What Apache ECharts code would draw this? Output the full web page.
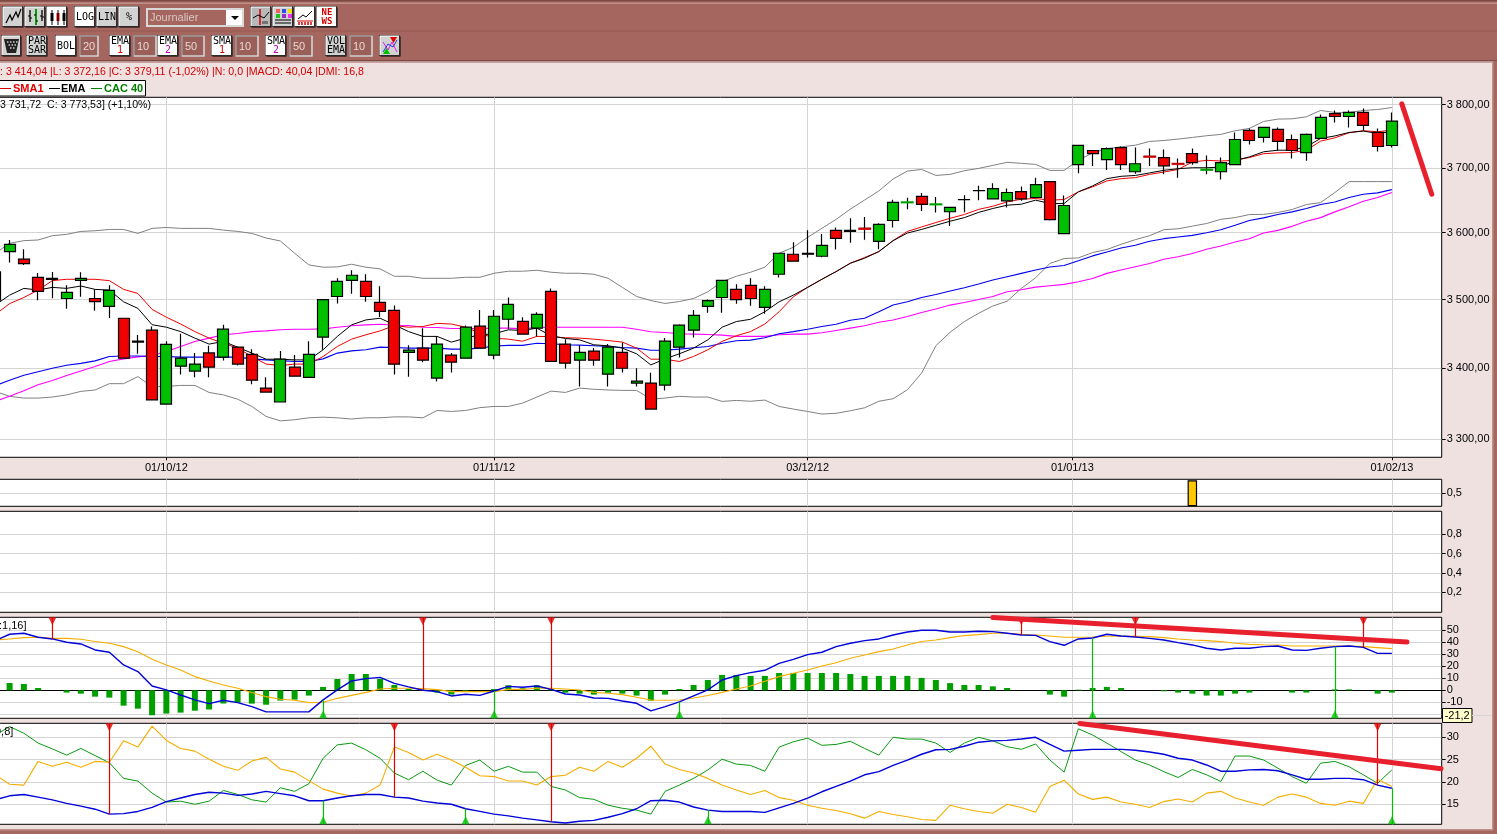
<!DOCTYPE html>
<html><head><meta charset="utf-8"><style>html,body{margin:0;padding:0;background:#F0E1E1;overflow:hidden}#c{width:1497px;height:834px}</style>
<script src="https://cdn.jsdelivr.net/npm/echarts@6/dist/echarts.min.js"></script></head><body><div id="c"></div>
<script>
// Values below start at trading-day index -1 (one candle cut by the left edge).
const opens=[3541,
3571.5,3560,3533,3531.5,3501.5,3528.5,3501.5,3490,3472.5,3439,
3455,3349,3403,3396,3422,3416,3430.4,3420,3371.7,3352,
3401.5,3387,3445,3504.5,3528.5,3527,3495.7,3484,3423,3429,
3386,3418.8,3414.5,3461,3418.8,3471,3468,3458,3512,3434.8,
3411.6,3424.7,3391.5,3423,3378.8,3378.8,3376,3430.4,3455,3490,
3503,3515,3521,3488.4,3537.5,3567.5,3569,3564.5,3603.6,3603.6,
3606.6,3587,3618.6,3646.2,3655.7,3643.1,3632,3650.8,3664.6,3651.8,
3648.7,3663,3653.9,3678.5,3598.5,3704.8,3727,3712.7,3731.7,3693.8,
3717.7,3716,3706.5,3722,3696.7,3693.8,3704.8,3758.7,3747.6,3760.3,
3744.4,3723.8,3746,3785.6,3780.9,3787.3,3755.5,3734.9];
const closes=[3499,
3582.5,3553.5,3512,3530,3510.5,3531.5,3497,3513.5,3414.5,3437.7,
3355,3434.3,3414.5,3406,3401.5,3456.5,3406,3383,3366,3413,
3388.7,3420,3500,3527,3536,3504.5,3482.6,3405.8,3426,3411.6,
3434.8,3408.7,3459.4,3429,3475.4,3492.8,3449.3,3478.3,3410,3407.3,
3423,3411.6,3430.4,3400,3381.6,3342,3439,3462.3,3476.8,3498.5,
3528.5,3500,3501.5,3515,3569,3557,3567.5,3581,3591.5,3602,
3606,3612.8,3646.4,3646.4,3643.3,3643.3,3638.7,3650.5,3664.4,3667.7,
3661.6,3651.8,3673.9,3620,3641.6,3735,3722,3730,3704.8,3706.3,
3717.2,3703,3706,3708,3697,3708,3744.4,3742.8,3763.5,3741.3,
3727,3752.4,3779.4,3780.9,3787.3,3766.7,3733.3,3773.53];
const lows=[3497,
3555,3551.5,3499,3502,3486.5,3504,3483.6,3473,3414.5,3421,
3355,3349,3391,3387,3387,3411,3404,3377,3366,3352,
3388.7,3387,3426.6,3494,3508.5,3496.6,3474.4,3391,3388,3408.7,
3381,3394,3414.5,3429,3413,3456.5,3449.3,3446,3410,3399.5,
3374,3403.7,3374,3394,3374,3342,3368.4,3415.5,3444.5,3480.7,
3480.7,3493.7,3491,3479,3532.5,3557,3562.5,3563,3574.5,3585,
3589.5,3575,3608,3636,3633,3631,3610.3,3631.4,3649.5,3651.8,
3638.5,3648.7,3653.9,3618.5,3598.5,3691.3,3702.6,3696.4,3696.4,3690.8,
3702.6,3690,3684.6,3704.8,3689.8,3681.9,3704.8,3736.5,3739.7,3727,
3714.3,3711,3746,3771.4,3763.5,3758.7,3725.4,3731.72];
const highs=[3546,
3589,3575,3539.5,3541,3521,3540.5,3515,3521,3472.5,3448,
3460.4,3439,3450,3422,3432.4,3463,3430.4,3427.5,3387,3425,
3419,3439,3500,3531.5,3543.5,3537.5,3519.5,3491.3,3433.3,3458,
3446.4,3422,3462,3484.5,3484.5,3503,3474,3481.2,3516.5,3442,
3433.3,3429,3434.8,3437,3400,3393.4,3443.5,3463.8,3484.5,3500,
3528.5,3522.5,3531.5,3519.5,3569,3585.5,3603.6,3598,3608,3622,
3624,3614.3,3650.5,3653.6,3660.8,3654.6,3638.7,3657.2,3672,3675.9,
3667.7,3670.8,3684.6,3678.5,3657,3735,3727,3731.7,3733.3,3731.7,
3730,3728.6,3714.3,3730,3719,3715.9,3755.5,3761.9,3763.5,3763.5,
3752.4,3754,3784,3790.5,3790.5,3793.6,3761.9,3787.3];
const bollUpper=[3569,
3584,3588,3589,3595.5,3597.5,3602,3603,3605,3605,3599,
3606.6,3608,3606.6,3606.6,3606.6,3604,3602,3599,3592,3587.5,
3569,3551.5,3548,3548.5,3552.5,3548,3545.5,3534.5,3534.5,3531.5,
3531.5,3531.5,3533,3533,3539,3542,3542,3543.5,3540.5,3539,
3539,3537.5,3531.5,3518,3504.5,3498.5,3494.2,3497,3501.5,3511.5,
3526.5,3534.5,3540.5,3548,3569,3578,3593,3606.6,3620.4,3636,
3650,3664,3682.5,3694.8,3697.4,3688,3689.7,3695.4,3699,3703.7,
3708.5,3706.9,3705.3,3695.9,3695.9,3711.6,3723.3,3730,3732.8,3735.4,
3741.3,3742.8,3745,3747.6,3750.3,3752.4,3758.2,3761.9,3773,3776.7,
3777.2,3780.4,3790.5,3787.3,3787.3,3790.5,3792,3795.2];
const bollLower=[3367,
3360,3357.5,3357.5,3359,3362,3367,3369,3378,3378,3388,
3374,3374,3375.5,3375.5,3365.5,3362,3356,3345.7,3331.6,3325.4,
3327,3329.7,3330.6,3329.7,3328,3329.7,3329.7,3331,3331,3329.7,
3340,3338.6,3340,3344,3345.7,3345.7,3350.4,3359,3367.4,3365.5,
3371.7,3370,3369,3368.4,3368.4,3356,3357.5,3360,3359,3359,
3352.8,3354.2,3353,3354.7,3345.7,3342,3338.6,3335,3336,3339.6,
3343.8,3353,3356.6,3369.3,3393,3432.4,3452,3467.6,3479.7,3490.5,
3497.5,3516.4,3532.3,3553.7,3561,3562,3570,3574.6,3582.5,3589.5,
3595.5,3604.6,3606,3610,3614,3620.5,3623,3627.7,3628,3630.8,
3635.4,3643,3646,3661.6,3678.5,3678.5,3678.5,3678.5];
const ema50=[3375,
3383,3390,3395,3400,3404.4,3407,3410.6,3417,3417.6,3417.6,
3417,3417,3416,3416,3416,3416,3416,3413.5,3412,3411,
3409.7,3409.7,3413.5,3421.8,3425,3426.6,3430.4,3430,3429,3429,
3429,3427.5,3427.5,3429,3432,3433,3433,3436,3435.3,3433.8,
3433.3,3432.4,3431.4,3430,3429,3426,3426,3427.5,3429.5,3431.4,
3436,3439.6,3440.6,3444,3449.8,3453,3456.5,3460.4,3463.8,3469.6,
3472.5,3482,3492,3496.6,3503,3507.5,3512.5,3517.5,3523,3528.9,
3533.8,3538.8,3543.8,3548.3,3550.7,3557.7,3565,3571,3577,3581,
3587,3591,3593.5,3596,3600,3604.6,3611.3,3618.5,3622.6,3627.7,
3631.8,3637,3643,3647,3653.9,3659,3661,3666];
const sma50=[3353,
3360,3368,3376.4,3382.5,3389.6,3396,3402.4,3409.7,3413.5,3416.4,
3418.4,3424,3431.4,3438.7,3443.5,3448.3,3450.3,3453,3454,3455.6,
3456.5,3456.5,3457,3459.4,3461.4,3462.8,3463.8,3462.3,3461.8,3459.4,
3459,3457.5,3457.5,3457.5,3458,3458,3457,3459,3459.4,3459.4,
3459.4,3459.4,3459.4,3459.4,3456.5,3452.7,3451.7,3449.8,3449.3,3448.8,
3447.8,3446,3446,3446,3448.3,3449.3,3449.3,3451.2,3454.6,3458,
3461.4,3466.7,3470,3475,3481,3486,3491.8,3495.7,3500,3504.5,
3511.4,3514.4,3518.4,3520.4,3522.4,3526.4,3531.3,3538.8,3543.8,3548.8,
3553.7,3560,3563.7,3568.7,3575,3580,3586,3591,3599.5,3603.6,
3609.7,3617.4,3623,3631.8,3639.5,3648.2,3653.9,3661.6];
const ema10=[3492,
3506.5,3516.5,3514,3518,3516.5,3520,3515,3514,3496.6,3487,
3463,3459.4,3453,3443.5,3434.8,3438.7,3430.4,3421.8,3413,3413,
3412,3412,3426.6,3446,3462.8,3470,3472.5,3462.8,3453,3446,
3446,3437.7,3443.5,3448.3,3449.8,3455.6,3454.6,3458,3446.9,3443,
3441,3433.8,3432.4,3429,3420.8,3404.8,3413.5,3420.8,3429,3441,
3459.4,3467.6,3471,3482,3496.6,3506.5,3518,3530,3541.5,3554,
3561.5,3571.5,3588,3599.5,3605,3611.3,3617.5,3623,3631,3637,
3642,3643.6,3649.8,3644.6,3644.6,3662.6,3671.8,3683,3686.7,3688,
3692,3696,3698.5,3700,3700,3701,3711.6,3717,3725,3727.5,
3727.5,3733,3746,3750,3755.5,3757.7,3754,3756.6];
const sma10=[3478,
3494,3503,3514,3528,3530,3530,3530,3528,3515,3509,
3485.5,3474,3464,3453,3443.5,3436,3429,3417,3406,3404,
3406,3406,3417,3431.4,3442,3448.3,3454,3461.8,3459.4,3460.4,
3465,3464,3459.4,3450.7,3443.5,3442,3439,3446,3445.6,3444,
3443.5,3442,3440,3437.7,3429,3413,3413,3409.7,3417,3426.6,
3438.7,3447,3453,3464,3482,3504,3518,3530,3541.5,3554,
3562.5,3571.5,3588,3602,3608.8,3615.5,3622,3627.8,3635.6,3640.5,
3647.2,3651.3,3652.3,3649.8,3650.8,3662.6,3670.3,3679.5,3683,3684.6,
3689.7,3693.3,3697.4,3709,3711.6,3710.6,3711.6,3716,3722,3723.3,
3723.8,3727.5,3741.8,3747,3755,3758.2,3756.6,3759.2];
const macdHist=[6,
6.1,5.3,1.9,0,-1.9,-2.8,-5.3,-6.1,-12.8,-15.3,
-20.8,-19.4,-18.6,-17,-16,-11,-10.3,-11.1,-12,-8.6,
-7.8,-4.4,2.8,9.4,13.6,13.6,9.4,4.4,1.1,0.4,
-2,-3.6,-1.1,0,1,4.2,1.7,4.2,1,-2,
-2.8,-3.6,-2,-2.8,-4.4,-8.6,-3.6,1.1,4.4,8.6,
12.8,12.8,12,12,14.4,14.4,14.4,14.4,14.4,13.6,
12,12,12,12,10.3,8.6,6,4.4,4.4,3.3,
1.9,0,0,-3.6,-5.3,0.5,1.9,2.8,1.9,0,
0,-0.8,-1.9,-2.8,-4.4,-4.4,-2.8,-1.9,0,0,
-1.9,-1.9,0,0.8,0.8,0,-2.8,-1.9];
const macdLine=[41.4,
46.7,47.5,44.2,42.8,40,38.6,33.6,31.7,21.1,15.6,
3.6,0.3,-3.9,-8,-11.1,-8.3,-10.3,-13.6,-18,-18,
-18,-18,-8,0.3,7.8,9.7,10.8,5.8,2.8,0,
-1.1,-4.7,-3.3,-4.2,-0.6,3.3,2.5,3.6,0.8,-3.1,
-3.9,-6.4,-6.7,-8.9,-10.8,-17.2,-13.6,-9.7,-4.7,0.3,
8.6,12.2,14.7,16.7,22.5,25.8,29.7,31.7,36.4,39.2,
41.4,42.8,46.1,48.6,50,50,48.6,48.6,49.2,48.9,
47.5,46.1,45.8,40.6,37.5,42.8,43.6,46.7,45.3,44.4,
43.3,41.9,39.7,37.8,35,33.6,35,35,36.4,36.9,
33.6,33.3,35,36.4,36.9,35.8,30.8,30.8];
const macdSignal=[41.9,
42.8,43.9,44.2,43.3,43.3,42.5,40.6,39.2,36.4,32.2,
25.8,21.1,16.9,11.4,7.8,4.4,1.7,-1.9,-5.3,-7.5,
-8.3,-10.3,-10,-6.7,-4.2,-1.7,1.1,1.7,1.7,1.4,
0.6,-1.1,-1.1,-1.1,-1.1,0.8,0.8,1.7,1.7,1.1,
0.3,-1.7,-2.5,-3.6,-5.8,-8.1,-8.3,-8.1,-6.4,-4.4,
-1.7,1.1,3.6,7.5,11.4,14.2,16.9,20.3,23,26.7,
29.4,32.2,34.4,37.8,40.6,41.9,43.9,45.6,46.4,47.5,
47.5,46.7,46.1,45.3,44.2,44.2,44.4,45,45.3,45,
44.7,43.9,42.8,41.9,41.4,40.6,39.2,38.3,38,37.8,
36.9,36.9,36.9,36.9,36.9,36.4,35.6,34.7];
const dmiPlus=[30.5,
32.4,30.9,28.7,27.4,26,27.5,25.9,24.3,20.8,20.2,
17.5,15.5,15.7,15,15.7,18.1,17.2,16,15.5,18.7,
17.9,19.6,25.3,28.3,28.7,27.2,25.3,22,20.5,22.4,
20.4,19.3,23.7,24.9,22.4,23.5,22.2,22.2,19,18.2,
16.5,16.1,14.8,14.1,13.7,12.8,17.9,19.3,20.8,22.7,
25.1,24,23.7,22.4,27.8,29,29.8,28.2,28.4,29.1,
27.5,26,30,29.6,29.6,28.7,26.6,28.7,30,29.2,
27.9,27.3,28.5,24.9,22.2,31.9,30.5,28.7,26.8,24.9,
23.8,22.3,21,22.8,21.6,20.1,25.8,25.8,24.9,23.1,
21.2,19.7,24.2,24.6,23.4,21.6,19.7,22.7];
const dmiMinus=[21.6,
19.5,19.3,24.6,23.5,24.4,23.3,24.6,24.4,29.2,27.8,
32.5,29.3,27.5,26.9,25.1,23.5,22.6,24.7,25.5,22.9,
22.2,20.3,18.4,17.5,16.8,17.5,19.3,27.8,26.6,24.9,
26.2,24.9,23.3,21.4,21.2,20.2,20.2,19.3,21.2,21.5,
23.3,22.4,24.6,23.3,25.3,28,24,22.8,22,20.8,
19.3,18.2,17.2,18.1,16.5,15.9,14.8,14.1,13.6,12.9,
11.9,13.4,12.7,12.2,11.6,11.4,14.8,14,13.4,13,
15,14.3,13.2,19,20.4,17.3,16.1,16.6,15.5,15,
14.3,15.6,16.2,15.5,17.5,17.9,16.4,15.5,14.8,16.6,
17.3,16.6,15.2,14.8,15.7,15.2,20.6,19];
const adx=[16,
16.9,17.2,16.6,16,15.2,14.6,13.9,12.8,12.9,13.4,
14.3,15.6,16.4,17.2,17.7,17.5,17,17.3,17.9,17.4,
16.9,15.8,15.8,16.4,16.9,17.2,17.2,16.6,16.4,15.7,
15.3,15,14,13.4,12.8,12.4,11.9,11.5,11.1,10.8,
11.2,11.4,12.1,12.9,14,15.8,15.9,15.5,14.4,13.7,
13.4,13.4,13.4,13.2,14.2,15.2,16.4,17.8,19,20.2,
21.6,22.3,23.7,24.9,26.2,27.2,27.3,28,28.9,29.2,
29.3,29.6,30,28.4,26.9,27.1,27.3,27.3,27.3,27.1,
26.7,26.2,25.3,24.9,23.8,22.4,22.4,22.7,22.8,22.5,
21.6,20.6,20.6,20.8,20.8,20.5,19.3,18.6];
const macdSellDays=[3,29,38,71,79,95], macdBuyDays=[22,34,47,76,93];
const dmiSellDays=[7,27,38,96], dmiBuyDays=[22,32,49,97];
const thinRedDays=[60,80,82], thinGreenDays=[63,65,84];
const volumeFlagDay=[83];
const priceTicks=[3300,3400,3500,3600,3700,3800];
const dateTickDays=[11,34,56,74.58,97];
const dateTickLabels=['01/10/12','01/11/12','03/12/12','01/01/13','01/02/13'];
const volTicks=[0.5], rsiTicks=[0.2,0.4,0.6,0.8];
const macdTicks=[-20,-10,0,10,20,30,40,50], macdLabelTicks=[-10,0,10,20,30,40,50];
const dmiTicks=[15,20,25,30];

const FONT='"Liberation Sans",Arial,sans-serif', GRID='#D4D4D4';
const BROWN='#A4665F', PINK='#F0E1E1';
const day=k=>k-1; // array position -> trading day
const lnP=Math.log;
const xPx=14.25, x0=9.6;
const L=-2, R=1441.7;
const xMin=(L-x0)/xPx, xMax=(R-x0)/xPx;
const panels=[[97.3,457.3],[479.3,506.3],[511.3,612.3],[617.3,718.3],[723.3,824.3]];
const grids=panels.map(p=>({left:L,width:R-L,top:p[0],height:p[1]-p[0],show:true,backgroundColor:'#fff',borderColor:'#000',borderWidth:1,outerBoundsMode:'none'}));
const xAxes=panels.map((p,i)=>({type:'value',gridIndex:i,min:xMin,max:xMax,
  axisLine:{show:i===3,onZero:true,lineStyle:{color:'#000',width:1}},
  splitLine:{show:true,lineStyle:{color:GRID,width:1}},
  axisTick:{show:i===0,length:3,lineStyle:{color:'#000'},customValues:dateTickDays},
  axisLabel:{show:i===0,customValues:dateTickDays,margin:5,color:'#000',fontFamily:FONT,fontSize:11,hideOverlap:false,
    formatter:v=>{const k=dateTickDays.findIndex(d=>Math.abs(d-v)<1e-6);return k<0?'':dateTickLabels[k];}}}));
const comma=(v,d)=>v.toFixed(d).replace('.',',');
const yAx=(i,min,max,ticks,labelTicks,fmt)=>({type:'value',gridIndex:i,position:'right',min,max,scale:true,
  axisLine:{show:false,onZero:false},
  axisTick:{show:true,length:4,lineStyle:{color:'#000'},customValues:ticks,inside:false},
  splitLine:{show:true,lineStyle:{color:GRID,width:1}},
  axisLabel:{customValues:labelTicks||ticks,margin:5,color:'#000',fontFamily:FONT,fontSize:11,formatter:fmt,hideOverlap:false,showMinLabel:true,showMaxLabel:true}});
const fmtPrice=v=>{const p=Math.round(Math.exp(v));return String(p).replace(/(\d)(\d{3})$/,'$1 $2')+',00';};
const yAxes=[
 yAx(0,lnP(3274.7),lnP(3811.6),priceTicks.map(lnP),null,fmtPrice),
 yAx(1,0,1.038,volTicks,null,v=>comma(v,1)),
 yAx(2,-0.008,1.038,rsiTicks,null,v=>comma(v,1)),
 yAx(3,-23.33,60.83,macdTicks,macdLabelTicks,v=>String(Math.round(v))),
 yAx(4,10.52,33.13,dmiTicks,null,v=>String(Math.round(v)))
];
const pts=(arr,f)=>arr.map((v,k)=>[day(k),f?f(v):v]);
const line=(name,panel,arr,color,width,f,extra)=>Object.assign({type:'line',name,xAxisIndex:panel,yAxisIndex:panel,data:pts(arr,f),symbol:'none',smooth:false,
  lineStyle:{color,width},itemStyle:{color},z:2,silent:true},extra||{});
const anno=(a,b)=>({silent:true,symbol:'none',animation:false,label:{show:false},clip:false,z:20,
  lineStyle:{color:'#E8202E',width:5,type:'solid',cap:'round'},data:[[{coord:a},{coord:b}]]});
const stems=(sell,buy,lineArr,minV,maxV)=>{
  const mk=(d,top,c)=>[{coord:[d,top?maxV:minV],lineStyle:{color:c,width:1.2,type:'solid'}},{coord:[d,lineArr[d+1]]}];
  return {silent:true,symbol:'none',animation:false,label:{show:false},
    data:sell.map(d=>mk(d,true,'#E00000')).concat(buy.map(d=>mk(d,false,'#00C000')))};
};
const arrows=(panel,days,val,color,rot,off)=>({type:'scatter',xAxisIndex:panel,yAxisIndex:panel,data:days.map(d=>[d,val]),symbol:'triangle',symbolSize:[8,8],symbolRotate:rot,symbolOffset:[0,off],itemStyle:{color},z:6,silent:true,clip:false});
const thinBody=(days,color)=>({type:'scatter',xAxisIndex:0,yAxisIndex:0,data:days.map(d=>[d,lnP(closes[d+1])]),symbol:'rect',symbolSize:[13,2.4],itemStyle:{color},z:4,silent:true});

const candleData=opens.map((o,k)=>[day(k),lnP(o),lnP(closes[k]),lnP(lows[k]),lnP(highs[k])]);
const series=[
 line('Boll+',0,bollUpper,'#808080',1,lnP),
 line('Boll-',0,bollLower,'#808080',1,lnP),
 line('SMA2',0,sma50,'#FF00FF',1.1,lnP),
 line('EMA2',0,ema50,'#0000EE',1.1,lnP),
 line('SMA1',0,sma10,'#EE0000',1,lnP),
 line('EMA',0,ema10,'#000000',1,lnP,{markLine:anno([97.7,lnP(3801)],[99.8,lnP(3659)])}),
 {type:'candlestick',name:'CAC 40',xAxisIndex:0,yAxisIndex:0,layout:'horizontal',barWidth:11.6,data:candleData,z:3,silent:true,
  encode:{x:0,y:[1,2,3,4]},
  itemStyle:{color:'#00BF00',color0:'#F00000',borderColor:'#000',borderColor0:'#000',borderColorDoji:'#000',borderWidth:1.2}},
 thinBody(thinRedDays,'#F00000'),
 thinBody(thinGreenDays,'#00BF00'),
 {type:'bar',xAxisIndex:1,yAxisIndex:1,barWidth:9.5,data:volumeFlagDay.map(d=>[d,1]),itemStyle:{color:'#FFC800',borderColor:'#000',borderWidth:1.2},silent:true},
 {type:'bar',name:'hist',xAxisIndex:3,yAxisIndex:3,barWidth:6,data:pts(macdHist),itemStyle:{color:'#009F00'},silent:true,z:1},
 line('signal',3,macdSignal,'#F5AE00',1.1,null,{markLine:stems(macdSellDays,macdBuyDays,macdLine,-23.33,60.83)}),
 line('macd',3,macdLine,'#0000D8',1.4,null,{markLine:anno([69,60.7],[98.06,40.2])}),
 arrows(3,macdSellDays,60.83,'#E00000',180,4),
 arrows(3,macdBuyDays,-23.33,'#00C000',0,-4),
 line('+DI',4,dmiPlus,'#089A10',1,null,{markLine:stems(dmiSellDays,dmiBuyDays,adx,10.52,33.13)}),
 line('-DI',4,dmiMinus,'#F5AE00',1.1),
 line('ADX',4,adx,'#0000D8',1.4,null,{markLine:anno([75.1,33.1],[100.45,22.95])}),
 arrows(4,dmiSellDays,33.13,'#E00000',180,4),
 arrows(4,dmiBuyDays,10.52,'#00C000',0,-4)
];

// ---- window chrome ----
const g=[];
const rect=(x,y,w,h,fill,stroke,lw)=>g.push({type:'rect',silent:true,z:100,shape:{x,y,width:w,height:h},style:{fill:fill||'none',stroke:stroke||'none',lineWidth:lw||1}});
const txt=(x,y,t,color,font,align)=>g.push({type:'text',silent:true,z:102,x,y,style:{text:t,fill:color,font:font,align:align||'left',verticalAlign:'middle'}});
const pl=(p,c,w)=>g.push({type:'polyline',silent:true,z:101,shape:{points:p},style:{stroke:c,lineWidth:w||1,fill:'none'}});
rect(0,0,1497,61,BROWN); rect(0,0,1497,1.5,'#7E4A44'); rect(0,2.5,1497,1.5,'#C08F88');
rect(0,30.5,1497,1,'#96594F');
rect(0,60,1497,1.5,'#7E4A44'); rect(0,62,1497,1,'#C9A3A0');
rect(1492,61,5,773,'#A4665F'); rect(1492,61,1.5,773,'#C08F88');
rect(0,830,1497,4,'#A4665F'); rect(0,829,1493,1.5,'#C08F88');
const btnFont='10px "DejaVu Sans Mono",monospace';
const btn=(x,y,w,h,fill)=>{rect(x+0.5,y+0.5,w,h,'#000');rect(x-0.5,y-0.5,w,h,fill,'#2a2a2a',1);
  pl([[x,y+h-1],[x,y],[x+w-1,y]],'#fff',1);};
const G='#D2D2D2',W='#FFFFFF';
const bl=(x,y,w,h,fill,lines,colors)=>{btn(x,y,w,h,fill);lines.forEach((t,i)=>txt(x+w/2,y+h/2+(lines.length===1?0:(i?4.8:-4.6)),t,(colors&&colors[i])||'#000',btnFont,'center'));};
// row 1
btn(3,7,20,20,G); pl([[6,23],[10,15],[12,20],[16,12],[18,17],[21,9]],'#000',1.2);
btn(25,7,20,20,G);
[[30,10,22],[36,9,25],[42,10,21]].forEach((b,i)=>{pl([[b[0],b[1]],[b[0],b[2]]],i===1?'#00A000':'#000',i===1?2:1.3);pl([[b[0]-2,b[1]+6],[b[0],b[1]+6]],'#000');pl([[b[0],b[2]-4],[b[0]+2,b[2]-4]],'#000');});
btn(47,7,20,20,W);
[[52,'#000'],[58,'#D00000'],[64,'#000']].forEach(b=>{pl([[b[0],10],[b[0],25]],'#000',1);rect(b[0]-1.5,13,3,8,b[1]);});
bl(75,7,20,20,W,['LOG']); bl(97,7,20,20,G,['LIN']); bl(119,7,20,20,G,['%']);
rect(147,9,96,17,BROWN,'#D8D8D8',2); txt(150,17.5,'Journalier','#D8C8C4','11px '+FONT);
rect(226,10,16,15,W); g.push({type:'polygon',silent:true,z:101,shape:{points:[[231,16],[239,16],[235,20]]},style:{fill:'#000'}});
btn(251,7,20,20,'#B8B8B8'); pl([[260,9],[260,25]],'#D00000',1.5); pl([[253,18],[258,15],[264,18],[269,12]],'#000',1);
[263,265,267].forEach(x=>pl([[x,24],[x,21]],'#555',1.4));
btn(273,7,20,20,G);
[[276,9,'#F06060'],[282,9,'#3050E0'],[288,9,'#F0E000'],[276,14,'#20C020'],[282,14,'#9030C0'],[288,14,'#F030F0']].forEach(c=>rect(c[0],c[1],4,4,c[2]));
pl([[275,20],[291,20]],'#000',1); pl([[275,23],[291,23]],'#000',1);
btn(295,7,20,20,W); pl([[298,19],[303,15],[306,17],[312,11]],'#000',1);
pl([[297,21],[313,21]],'#D00000',1); [299,302,305,308,311].forEach(x=>pl([[x,25],[x,22]],'#D00000',1.5));
btn(317,7,20,20,W); txt(327,12.5,'NE','#D00000','bold 9px "DejaVu Sans Mono",monospace','center'); txt(327,21.5,'WS','#D00000','bold 9px "DejaVu Sans Mono",monospace','center');
// row 2
btn(2,36,19,20,G); g.push({type:'polygon',silent:true,z:101,shape:{points:[[4,39],[19,39],[16,53],[7,53]]},style:{fill:'#222'}});
[[7,42],[10,42],[13,42],[16,42],[8.5,45],[11.5,45],[14.5,45],[10,48],[13,48]].forEach(c=>pl([[c[0],c[1]],[c[0]+1.5,c[1]]],'#ccc',1.5));
bl(27,36,20,20,G,['PAR','SAR']);
bl(56,36,20,20,W,['BOL']);
const box=(x,w,t)=>{rect(x,36,w,20,'#9A5F58','#9A9A9A',1.5);pl([[x+w,36],[x+w,56],[x,56]],'#E8E0E0',1.2);txt(x+3,46.5,t,'#E9D8D2','11px '+FONT);};
box(80,18,'20');
bl(110,36,20,20,W,['EMA','1'],['#000','#E00000']); box(134,22,'10');
bl(158,36,20,20,W,['EMA','2'],['#000','#B000C0']); box(182,22,'50');
bl(212,36,20,20,W,['SMA','1'],['#000','#E00000']); box(236,22,'10');
bl(266,36,20,20,W,['SMA','2'],['#000','#B000C0']); box(290,22,'50');
bl(326,36,20,20,G,['VOL','EMA']); box(350,22,'10');
btn(380,36,20,20,G); pl([[383,42],[388,50],[392,42],[397,52]],'#E020E0',1); pl([[383,52],[388,44],[393,47],[397,40]],'#2040E0',1);
g.push({type:'polygon',silent:true,z:101,shape:{points:[[390,37],[397,37],[393.5,43]]},style:{fill:'#E00000'}});
g.push({type:'polygon',silent:true,z:101,shape:{points:[[383,54],[390,54],[386.5,48]]},style:{fill:'#00C000'}});
// info lines
txt(0,72.5,': 3 414,04 |L: 3 372,16 |C: 3 379,11 (-1,02%) |N: 0,0 |MACD: 40,04 |DMI: 16,8','#D00000','10.6px '+FONT);
rect(-2,80.5,147.5,15.5,W,'#000',1);
pl([[0,88.5],[11,88.5]],'#E00000',1); txt(13,88.5,'SMA1','#E00000','bold 11px '+FONT);
pl([[49,88.5],[60,88.5]],'#000',1); txt(61,88.5,'EMA','#000','bold 11px '+FONT);
pl([[91,88.5],[102,88.5]],'#008000',1); txt(104,88.5,'CAC 40','#008000','bold 11px '+FONT);
txt(0,105.5,'3 731,72  C: 3 773,53] (+1,10%)','#000','10.6px '+FONT);
txt(-1,625.5,':1,16]','#000','11px '+FONT);
txt(-5,731.5,'9,8]','#000','11px '+FONT);
// crosshair value box
pl([[1472,715.5],[1492,715.5]],GRID,1);
rect(1442.5,708.5,29.5,14,'#FFFFCC','#000',1); txt(1457.2,716,'-21,2','#000','11px '+FONT,'center');

const chart=echarts.init(document.getElementById('c'),null,{width:1497,height:834});
chart.setOption({animation:false,backgroundColor:PINK,textStyle:{fontFamily:FONT},grid:grids,xAxis:xAxes,yAxis:yAxes,series,graphic:{elements:g}});
</script></body></html>
